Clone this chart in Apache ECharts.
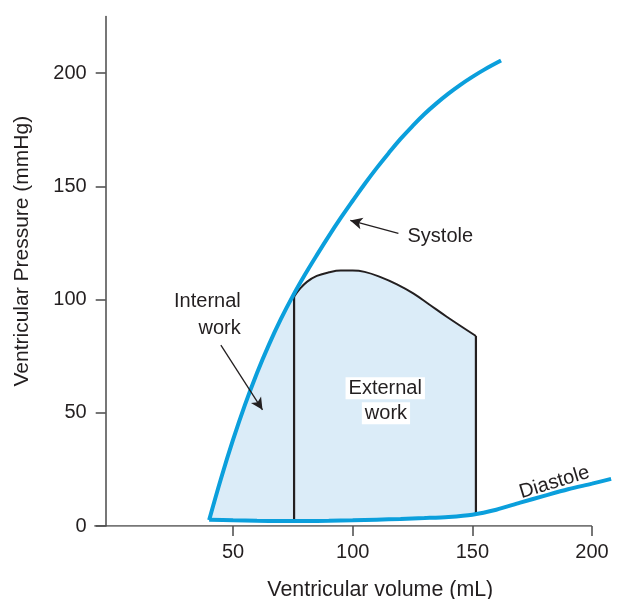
<!DOCTYPE html>
<html><head><meta charset="utf-8">
<script src="https://cdn.jsdelivr.net/npm/echarts@6/dist/echarts.min.js"></script>
<style>html,body{margin:0;padding:0;background:#fff}#c{width:617px;height:599px}</style>
</head><body><div id="c"></div>
<script>
// ---- data ----
const xTicks = [50, 100, 150, 200];
const yTicks = [0, 50, 100, 150, 200];
const systole = [[40,2.6],[45,21.1],[50,38.1],[55,53.6],[60,67.6],[65,80.1],[70,91.4],[75,101.6],[80,110.9],[85,119.6],[90,128],[95,136],[100,143.6],[105,151],[110,158],[115,164.6],[120,170.9],[125,176.6],[130,181.9],[135,186.6],[140,190.9],[145,194.8],[150,198.3],[155,201.5],[162,205.5]];
const diastole = [[40,2.8],[50,2.5],[60,2.3],[70,2.2],[80,2.2],[90,2.3],[100,2.5],[110,2.8],[120,3.1],[130,3.5],[140,4.0],[150,5.0],[160,7.2],[170,10.3],[180,13.3],[190,16.2],[200,18.7],[208,20.8]];
const externalTop = [[75.5,101.3],[78,104.8],[81,107.9],[85,110.4],[90,112],[95,112.8],[100,112.8],[105,112.2],[111.4,110],[118.5,106.7],[125.3,102.7],[132,97.8],[139.3,92.4],[151.5,83.9]];
const internalDivider = [[75.5,2.2],[75.5,101.3]];
const externalRight = [[151.5,83.9],[151.5,5.2]];
const baseLine = [[-8,0],[200,0]];
const internalArrow = [[44.9,79.9],[62.3,51.3]];
const systoleArrow = [[119.1,129.2],[99.0,134.9]];
const labelTexts = ['Internal', 'work', 'External', 'work', 'Systole', 'Diastole'];
const xName = 'Ventricular volume (mL)';
const yName = 'Ventricular Pressure (mmHg)';

// ---- chart ----
const BLUE = '#0b9fdc', FILL = '#dbecf8', INK = '#231f20', AX = '#4a4a4a';
const FONT = '"Liberation Sans", Arial, Helvetica, sans-serif';

const fillPoly = systole.filter(p => p[0] < 75.5)
  .concat(externalTop)
  .concat([externalRight[1]])
  .concat(diastole.filter(p => p[0] < 151.5).reverse());

const labelAnchors = [
  {v:[53.2,99.0], align:'right'},
  {v:[53.2,87.4], align:'right'},
  {v:[113.6,60.8], align:'center', box:true},
  {v:[113.9,49.8], align:'center', box:true},
  {v:[122.9,127.7], align:'left'},
  {v:[184.3,19.2], align:'center', rotate:17}
];

const chart = echarts.init(document.getElementById('c'), null, {renderer:'canvas'});
chart.setOption({
  animation: false,
  backgroundColor: '#fff',
  textStyle: {fontFamily: FONT},
  grid: {left: 94.3, right: 4.7, top: 16.4, bottom: 73, containLabel: false, outerBoundsMode: 'none'},
  xAxis: {
    type: 'value', min: -8, max: 208.5,
    name: xName, nameLocation: 'middle', nameGap: 54,
    nameTextStyle: {fontSize: 21.4, color: INK, fontFamily: FONT, padding: [0,0,0,54]},
    axisLine: {show: false},
    axisTick: {show: true, length: 10, customValues: xTicks, lineStyle: {color: AX, width: 1.5}},
    axisLabel: {customValues: xTicks, fontSize: 20, color: INK, margin: 16, fontFamily: FONT},
    splitLine: {show: false}
  },
  yAxis: {
    type: 'value', min: 0, max: 225, offset: -11.4,
    name: yName, nameLocation: 'middle', nameGap: 73,
    nameTextStyle: {fontSize: 21, color: INK, fontFamily: FONT, padding: [0,0,0,40]},
    axisLine: {show: true, onZero: false, lineStyle: {color: AX, width: 1.5}},
    axisTick: {show: true, length: 10, customValues: yTicks, lineStyle: {color: AX, width: 1.5}},
    axisLabel: {customValues: yTicks, fontSize: 20, color: INK, margin: 19, fontFamily: FONT},
    splitLine: {show: false}
  },
  series: [
    {
      type: 'custom', z: 1, clip: false,
      data: [fillPoly[0]],
      renderItem: function (params, api) {
        return {type: 'polygon', shape: {points: fillPoly.map(p => api.coord(p))}, style: {fill: FILL}};
      }
    },
    {type:'line', z:2, data: baseLine, showSymbol:false, lineStyle:{color:AX, width:1.5}},
    {type:'line', z:2, data: externalTop, smooth: 0.4, showSymbol:false, lineStyle:{color:INK, width:2}},
    {type:'line', z:2, data: internalDivider, showSymbol:false, lineStyle:{color:INK, width:2.2}},
    {type:'line', z:2, data: externalRight, showSymbol:false, lineStyle:{color:INK, width:2.2}},
    {type:'line', z:3, data: systole, smooth: 0.4, showSymbol:false, lineStyle:{color:BLUE, width:4}},
    {type:'line', z:3, data: diastole, smooth: 0.3, showSymbol:false, lineStyle:{color:BLUE, width:4}},
    {type:'line', z:4, data: [], markLine: {
      silent: true, symbol: ['none','arrow'], symbolSize: [9, 12],
      lineStyle: {color: INK, width: 1.3, type: 'solid'}, label: {show:false},
      data: [
        [{coord: internalArrow[0]}, {coord: internalArrow[1]}],
        [{coord: systoleArrow[0]}, {coord: systoleArrow[1]}]
      ]
    }},
    {
      type: 'scatter', z: 5, symbolSize: 0, silent: true,
      itemStyle: {opacity: 1},
      data: labelAnchors.map((a, i) => ({
        value: a.v,
        label: {
          show: true, position: 'inside', formatter: labelTexts[i],
          align: a.align, verticalAlign: 'middle', rotate: a.rotate || 0,
          fontSize: 20, color: INK, opacity: 1, fontFamily: FONT,
          backgroundColor: a.box ? '#ffffff' : 'transparent',
          padding: a.box ? [1,3,1,3] : 0
        }
      }))
    }
  ]
});
</script></body></html>
